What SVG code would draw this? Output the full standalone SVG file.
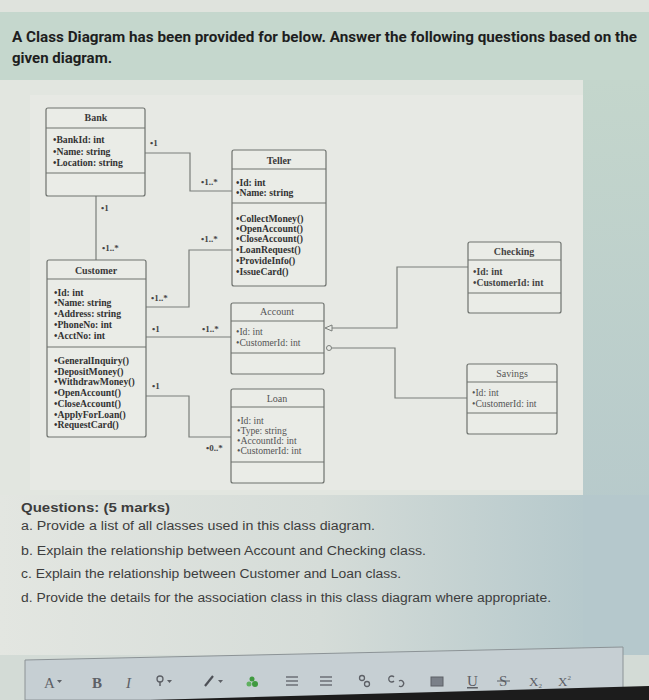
<svg xmlns="http://www.w3.org/2000/svg" width="649" height="700" viewBox="0 0 649 700">
<defs>
<linearGradient id="lowGrad" x1="0" y1="0" x2="1" y2="0">
<stop offset="0" stop-color="#e3e6e1"/>
<stop offset="0.55" stop-color="#d5dcd8"/>
<stop offset="1" stop-color="#b6c9cc"/>
</linearGradient>
<linearGradient id="rightGrad" x1="0" y1="0" x2="0" y2="1">
<stop offset="0" stop-color="#c4d6cc"/>
<stop offset="1" stop-color="#b3c6cb"/>
</linearGradient>
<style>
.box{fill:#eaece7;stroke:#6e726e;stroke-width:1.2}
.div{stroke:#6e726e;stroke-width:1.2}
.cn{fill:none;stroke:#7a7e7a;stroke-width:1.2}
.ct{font-family:"Liberation Serif",serif;font-size:10px;font-weight:bold;fill:#3a3a3a;text-anchor:middle}
.at{font-family:"Liberation Serif",serif;font-size:9.7px;font-weight:bold;fill:#333}
.lt{font-family:"Liberation Serif",serif;font-size:9.7px;fill:#555}
.ml{font-family:"Liberation Serif",serif;font-size:9px;font-weight:bold;fill:#444}
.q{font-family:"Liberation Sans",Arial,sans-serif;font-size:12.5px;fill:#3d3d3d}
.ti{font-family:Roboto,"Liberation Sans",sans-serif;font-size:14px;font-weight:bold;fill:#1e1e1e}
.tb{font-family:"Liberation Serif",serif;font-size:15px;fill:#5d6066}
</style>
</defs>
<!-- background -->
<rect x="0" y="0" width="649" height="700" fill="#d3dbd6"/>
<rect x="0" y="0" width="649" height="12" fill="#dfe3dd"/>
<rect x="0" y="12" width="649" height="68" fill="#c5d7cd"/>
<rect x="583" y="80" width="66" height="575" fill="url(#rightGrad)"/>
<rect x="0" y="80" width="583" height="415" fill="#e2e6e0"/>
<rect x="30" y="95" width="553" height="395" fill="#e7e9e4"/>
<rect x="0" y="495" width="583" height="160" fill="url(#lowGrad)"/>
<rect x="583" y="495" width="66" height="160" fill="#b5c8cc"/>

<!-- title -->
<text class="ti" x="12" y="42" textLength="625" lengthAdjust="spacingAndGlyphs">A Class Diagram has been provided for below. Answer the following questions based on the</text>
<text class="ti" x="12" y="63" textLength="100" lengthAdjust="spacingAndGlyphs">given diagram.</text>

<!-- connectors -->
<g id="connectors">
<path class="cn" d="M145,153 H190 V191 H232"/>
<path class="cn" d="M96,196 V260"/>
<path class="cn" d="M146,307 H189 V250 H232"/>
<path class="cn" d="M146,337 H231"/>
<path class="cn" d="M146,396 H189 V437 H231"/>
<path class="cn" d="M332,328 H397 V267 H468"/>
<path class="cn" d="M331.5,348 H395 V398 H467"/>
<path d="M325,328 L332,325 L332,331 Z" fill="#eaece7" stroke="#7a7e7a" stroke-width="1"/>
<circle cx="329" cy="348" r="2.5" fill="#eaece7" stroke="#7a7e7a" stroke-width="1"/>
<text class="ml" x="150" y="146">•1</text>
<text class="ml" x="201" y="185">•1..*</text>
<text class="ml" x="101" y="211">•1</text>
<text class="ml" x="102" y="251">•1..*</text>
<text class="ml" x="201" y="242">•1..*</text>
<text class="ml" x="151" y="301">•1..*</text>
<text class="ml" x="152" y="332">•1</text>
<text class="ml" x="202" y="332">•1..*</text>
<text class="ml" x="152" y="389">•1</text>
<text class="ml" x="206" y="451">•0..*</text>
</g>

<!-- Bank -->
<g id="bank">
<rect class="box" x="46" y="108" width="99" height="88" rx="2"/>
<line class="div" x1="46" y1="128" x2="145" y2="128"/>
<line class="div" x1="46" y1="173" x2="145" y2="173"/>
<text class="ct" x="96" y="121">Bank</text>
<text class="at" x="53" y="143">•BankId: int</text>
<text class="at" x="53" y="155">•Name: string</text>
<text class="at" x="53" y="166">•Location: string</text>
</g>

<!-- Teller -->
<g id="teller">
<rect class="box" x="232" y="150" width="94" height="136" rx="2"/>
<line class="div" x1="232" y1="169" x2="326" y2="169"/>
<line class="div" x1="232" y1="203" x2="326" y2="203"/>
<text class="ct" x="279" y="164">Teller</text>
<text class="at" x="236" y="186">•Id: int</text>
<text class="at" x="236" y="196">•Name: string</text>
<text class="at" x="236" y="222">•CollectMoney()</text>
<text class="at" x="236" y="232">•OpenAccount()</text>
<text class="at" x="236" y="242">•CloseAccount()</text>
<text class="at" x="236" y="253">•LoanRequest()</text>
<text class="at" x="236" y="264">•ProvideInfo()</text>
<text class="at" x="236" y="275">•IssueCard()</text>
</g>

<!-- Customer -->
<g id="customer">
<rect class="box" x="47" y="260" width="99" height="177" rx="2"/>
<line class="div" x1="47" y1="279" x2="146" y2="279"/>
<line class="div" x1="47" y1="347" x2="146" y2="347"/>
<text class="ct" x="96" y="274">Customer</text>
<text class="at" x="54" y="296">•Id: int</text>
<text class="at" x="54" y="306">•Name: string</text>
<text class="at" x="54" y="317">•Address: string</text>
<text class="at" x="54" y="328">•PhoneNo: int</text>
<text class="at" x="54" y="339">•AcctNo: int</text>
<text class="at" x="54" y="364">•GeneralInquiry()</text>
<text class="at" x="54" y="375">•DepositMoney()</text>
<text class="at" x="54" y="385">•WithdrawMoney()</text>
<text class="at" x="54" y="396">•OpenAccount()</text>
<text class="at" x="54" y="407">•CloseAccount()</text>
<text class="at" x="54" y="418">•ApplyForLoan()</text>
<text class="at" x="54" y="428">•RequestCard()</text>
</g>

<!-- Account -->
<g id="account">
<rect class="box" x="231" y="303" width="93" height="71" rx="2"/>
<line class="div" x1="231" y1="321" x2="324" y2="321"/>
<line class="div" x1="231" y1="353" x2="324" y2="353"/>
<text class="ct" x="277" y="315" style="font-weight:normal;fill:#555">Account</text>
<text class="lt" x="236" y="335">•Id: int</text>
<text class="lt" x="236" y="346">•CustomerId: int</text>
</g>

<!-- Loan -->
<g id="loan">
<rect class="box" x="231" y="389" width="93" height="94" rx="2"/>
<line class="div" x1="231" y1="407" x2="324" y2="407"/>
<line class="div" x1="231" y1="462" x2="324" y2="462"/>
<text class="ct" x="277" y="402" style="font-weight:normal;fill:#555">Loan</text>
<text class="lt" x="237" y="424">•Id: int</text>
<text class="lt" x="237" y="434">•Type: string</text>
<text class="lt" x="237" y="444">•AccountId: int</text>
<text class="lt" x="237" y="454">•CustomerId: int</text>
</g>

<!-- Checking -->
<g id="checking">
<rect class="box" x="468" y="242" width="93" height="71" rx="2"/>
<line class="div" x1="468" y1="260" x2="561" y2="260"/>
<line class="div" x1="468" y1="293" x2="561" y2="293"/>
<text class="ct" x="514" y="255" style="fill:#444">Checking</text>
<text class="at" x="473" y="275" style="fill:#444">•Id: int</text>
<text class="at" x="473" y="286" style="fill:#444">•CustomerId: int</text>
</g>

<!-- Savings -->
<g id="savings">
<rect class="box" x="467" y="364" width="90" height="70" rx="2"/>
<line class="div" x1="467" y1="382" x2="557" y2="382"/>
<line class="div" x1="467" y1="413" x2="557" y2="413"/>
<text class="ct" x="512" y="377" style="font-weight:normal;fill:#555">Savings</text>
<text class="lt" x="472" y="396">•Id: int</text>
<text class="lt" x="472" y="407">•CustomerId: int</text>
</g>

<!-- questions -->
<text class="q" x="21" y="512" style="font-weight:bold" textLength="149" lengthAdjust="spacingAndGlyphs">Questions:  (5 marks)</text>
<text class="q" x="21" y="530" textLength="354" lengthAdjust="spacingAndGlyphs">a. Provide a list of all classes used in this class diagram.</text>
<text class="q" x="21" y="555" textLength="405" lengthAdjust="spacingAndGlyphs">b. Explain the relationship between Account and Checking class.</text>
<text class="q" x="21" y="578" textLength="380" lengthAdjust="spacingAndGlyphs">c. Explain the relationship between Customer and Loan class.</text>
<text class="q" x="21" y="602" textLength="530" lengthAdjust="spacingAndGlyphs">d. Provide the details for the association class in this class diagram where appropriate.</text>

<!-- toolbar -->
<g id="toolbar">
<path d="M25,660 L623,647 L623,700 L25,700 Z" fill="#c6cfd3" stroke="#8c9396" stroke-width="1"/>
<text class="tb" x="44" y="688">A</text>
<path d="M57,680 l5,0 l-2.5,3 z" fill="#5d6066"/>
<text class="tb" x="92" y="688" style="font-weight:bold">B</text>
<text class="tb" x="126" y="688" style="font-style:italic">I</text>
<circle cx="160" cy="679" r="3" fill="none" stroke="#5d6066" stroke-width="1.3"/>
<line x1="160" y1="682" x2="160" y2="686" stroke="#5d6066" stroke-width="1.5"/>
<path d="M167,680 l5,0 l-2.5,3 z" fill="#5d6066"/>
<line x1="205" y1="686" x2="213" y2="676" stroke="#4d5056" stroke-width="2.2"/>
<path d="M218,680 l5,0 l-2.5,3 z" fill="#5d6066"/>
<circle cx="252" cy="679" r="2.5" fill="#3f9a3f"/>
<circle cx="255" cy="684" r="3" fill="#3f9a3f"/>
<circle cx="249" cy="684" r="2.5" fill="#5fb05f"/>
<g stroke="#5d6066" stroke-width="1.3">
<line x1="286" y1="677" x2="298" y2="677"/><line x1="286" y1="681" x2="298" y2="681"/><line x1="286" y1="685" x2="298" y2="685"/>
<line x1="320" y1="677" x2="332" y2="677"/><line x1="320" y1="681" x2="332" y2="681"/><line x1="320" y1="685" x2="332" y2="685"/>
</g>
<circle cx="362" cy="678" r="2.5" fill="none" stroke="#5d6066" stroke-width="1.3"/>
<circle cx="367" cy="684" r="2.5" fill="none" stroke="#5d6066" stroke-width="1.3"/>
<path d="M394,677 a3,3 0 1,0 0,4 M399,681 a3,3 0 1,1 0,5" fill="none" stroke="#5d6066" stroke-width="1.3"/>
<rect x="431" y="677" width="12" height="9" fill="#7a8088" stroke="#5d6066" stroke-width="1"/>
<text class="tb" x="467" y="686" text-decoration="underline">U</text>
<text class="tb" x="499" y="686">S</text>
<line x1="497" y1="681" x2="510" y2="681" stroke="#5d6066" stroke-width="1"/>
<text class="tb" x="529" y="686" style="font-size:13px">X<tspan font-size="7" dy="2">2</tspan></text>
<text class="tb" x="558" y="686" style="font-size:13px">X<tspan font-size="7" dy="-6">2</tspan></text>
</g>
<path d="M150,700 L649,686 L649,700 Z" fill="#1c1c1c"/>
</svg>
